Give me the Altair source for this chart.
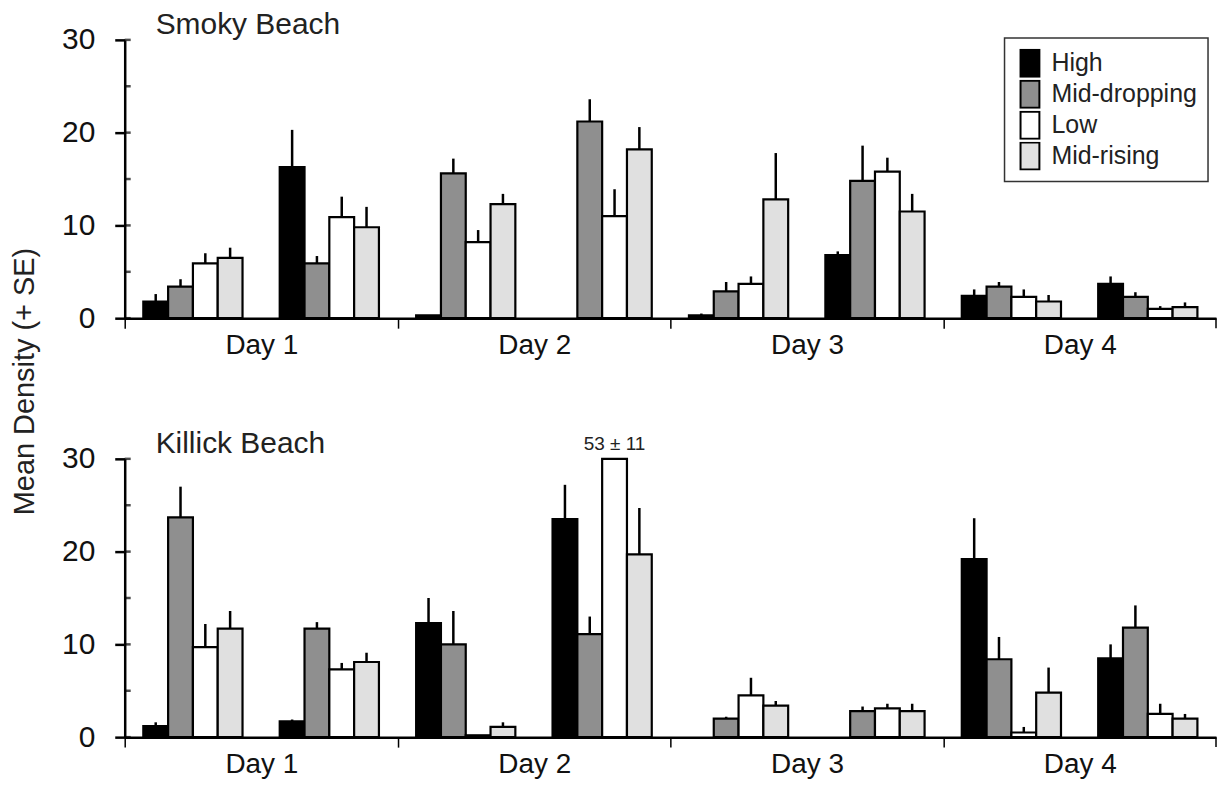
import altair as alt
import pandas as pd

FONT = "Liberation Sans"
SERIES = ["High", "Mid-dropping", "Low", "Mid-rising"]
COLORS = ["#000000", "#8f8f8f", "#ffffff", "#e0e0e0"]
DAYS = ["Day 1", "Day 2", "Day 3", "Day 4"]
Y_TICKS = [0, 10, 20, 30]
Y_MINOR = [0, 5, 10, 15, 20, 25, 30]
Y_MAX = 30
DAY_BOUNDS = [0, 11, 22, 33]
X_END = [44]

# order of each list: Day1 (1st, 2nd tide cycle), Day2 (1st, 2nd), Day3 (1st, 2nd), Day4 (1st, 2nd)
smoky_high = [1.8, 16.3, 0.3, None, 0.3, 6.8, 2.4, 3.7]
smoky_middrop = [3.4, 5.9, 15.6, 21.2, 2.9, 14.8, 3.4, 2.3]
smoky_low = [5.9, 10.9, 8.2, 11.0, 3.7, 15.8, 2.3, 1.0]
smoky_midrise = [6.5, 9.8, 12.3, 18.2, 12.8, 11.5, 1.8, 1.2]

smoky_high_se = [0.8, 4.0, 0.0, None, 0.2, 0.4, 0.7, 0.8]
smoky_middrop_se = [0.8, 0.8, 1.6, 2.4, 1.0, 3.8, 0.5, 0.5]
smoky_low_se = [1.1, 2.2, 1.3, 2.9, 0.8, 1.5, 0.8, 0.3]
smoky_midrise_se = [1.1, 2.2, 1.1, 2.4, 5.0, 1.9, 0.7, 0.5]

killick_high = [1.2, 1.7, 12.3, 23.5, None, None, 19.2, 8.5]
killick_middrop = [23.7, 11.7, 10.0, 11.1, 2.0, 2.8, 8.4, 11.8]
killick_low = [9.7, 7.3, 0.2, 53, 4.5, 3.1, 0.5, 2.5]
killick_midrise = [11.7, 8.1, 1.1, 19.7, 3.4, 2.8, 4.8, 2.0]

killick_high_se = [0.4, 0.2, 2.7, 3.7, None, None, 4.4, 1.5]
killick_middrop_se = [3.3, 0.7, 3.6, 1.9, 0.2, 0.5, 2.4, 2.4]
killick_low_se = [2.5, 0.7, 0.0, 11, 1.9, 0.5, 0.6, 1.1]
killick_midrise_se = [1.9, 1.0, 0.5, 5.0, 0.5, 0.8, 2.7, 0.5]

PLOT_W, PLOT_H = 1094, 279


def tables(means, ses):
    bars, errs, labs = [], [], []
    for si, (s, m_list, e_list) in enumerate(zip(SERIES, means, ses)):
        for k, (m, e) in enumerate(zip(m_list, e_list)):
            if m is None:
                continue
            d, g = divmod(k, 2)
            x0 = d * 11 + 0.75 + g * 5.5 + si
            top = min(m, Y_MAX)
            bars.append({"series": s, "x0": x0, "x1": x0 + 1, "top": top, "base": 0})
            if m > Y_MAX:
                labs.append({"xc": x0 + 0.5, "top": top, "label": f"{m:g} \u00b1 {e:g}"})
            elif e:
                errs.append({"xc": x0 + 0.5, "top": m, "err": m + e})
    return pd.DataFrame(bars), pd.DataFrame(errs), pd.DataFrame(labs)


X_AXIS = alt.Axis(
    values=DAY_BOUNDS,
    labelExpr="'Day ' + (datum.value / 11 + 1)",
    labelOffset=137, tickSize=10, tickWidth=1.5, tickColor="black",
    domainWidth=2.5, domainColor="black", labelFontSize=28, labelFont=FONT,
    labelColor="#111111", labelPadding=3, labelFlush=False, labelOverlap=False,
    labelBound=False, grid=False, title=None,
)
X_SCALE = alt.Scale(domain=[0, 44], nice=False, zero=False)
Y_SCALE = alt.Scale(domain=[0, Y_MAX], nice=False)


def y_axis(with_title):
    kw = dict(
        values=Y_TICKS, tickSize=10, tickWidth=2.5, tickColor="black",
        domainWidth=2.5, domainColor="black", labelFontSize=30, labelFont=FONT,
        labelColor="#111111", labelPadding=20, grid=False,
    )
    if with_title:
        kw.update(title="Mean Density (+ SE)", titleFontSize=29, titleFont=FONT,
                  titleFontWeight="normal", titleColor="#222222",
                  titleX=-85, titleY=342)
    else:
        kw.update(title=None)
    return alt.Axis(**kw)


def panel(means, ses, title, show_legend, with_ytitle, title_offset):
    bars, errs, labs = tables(means, ses)
    yax = y_axis(with_ytitle)
    X = lambda f: alt.X(f, type="quantitative", scale=X_SCALE, axis=X_AXIS)
    Y = lambda f: alt.Y(f, type="quantitative", scale=Y_SCALE, axis=yax)

    if show_legend:
        legend = alt.Legend(
            orient="none", legendX=882, legendY=-2, title=None,
            symbolType="M-0.7,-1H0.7V1H-0.7Z", symbolSize=729,
            symbolStrokeColor="black", symbolStrokeWidth=2, symbolOpacity=1,
            labelFontSize=25, labelFont=FONT, labelColor="#222222",
            labelOffset=7, padding=11, rowPadding=2, clipHeight=29, labelLimit=300,
            strokeColor="#333333", fillColor="white",
        )
    else:
        legend = None

    bar = alt.Chart(bars).mark_rect(stroke="black", strokeWidth=2.2, opacity=1).encode(
        x=X("x0"), x2="x1:Q", y=Y("top"), y2="base:Q",
        fill=alt.Fill("series:N", scale=alt.Scale(domain=SERIES, range=COLORS),
                      sort=SERIES, legend=legend),
    )
    layers = [bar]
    if len(errs):
        layers.append(
            alt.Chart(errs).mark_rule(color="black", strokeWidth=2.5).encode(
                x=X("xc"), y=Y("top"), y2="err:Q")
        )
    ticks = pd.DataFrame({"top": Y_MINOR})
    layers.append(
        alt.Chart(ticks).mark_tick(color="black", thickness=2.5, size=6).encode(
            y=Y("top"), x=alt.value(3))
    )
    end_tick = pd.DataFrame({"xb": X_END})
    layers.append(
        alt.Chart(end_tick).mark_rule(color="black", strokeWidth=1.5).encode(
            x=X("xb"), y=alt.value(PLOT_H), y2=alt.value(PLOT_H + 10))
    )
    if len(labs):
        layers.append(
            alt.Chart(labs).mark_text(fontSize=19, font=FONT, color="#222222", dy=-15).encode(
                x=X("xc"), y=Y("top"), text="label:N")
        )
    return alt.layer(*layers).properties(
        width=PLOT_W, height=PLOT_H,
        title=alt.TitleParams(text=title, anchor="start", frame="group", dx=31,
                              offset=title_offset, fontSize=30, font=FONT,
                              fontWeight="normal", color="#222222"),
    )


top = panel([smoky_high, smoky_middrop, smoky_low, smoky_midrise],
            [smoky_high_se, smoky_middrop_se, smoky_low_se, smoky_midrise_se],
            "Smoky Beach", True, True, -15)
bottom = panel([killick_high, killick_middrop, killick_low, killick_midrise],
               [killick_high_se, killick_middrop_se, killick_low_se, killick_midrise_se],
               "Killick Beach", False, False, -24)

chart = (
    alt.vconcat(top, bottom, spacing=141, bounds="flush")
    .resolve_scale(fill="independent")
    .properties(padding={"left": 2, "top": 0, "right": 0, "bottom": 0})
    .configure_view(stroke="transparent")
    .configure_legend(strokeWidth=1.5)
)

chart.save("out.html", embed_options={"renderer": "svg", "actions": False})
